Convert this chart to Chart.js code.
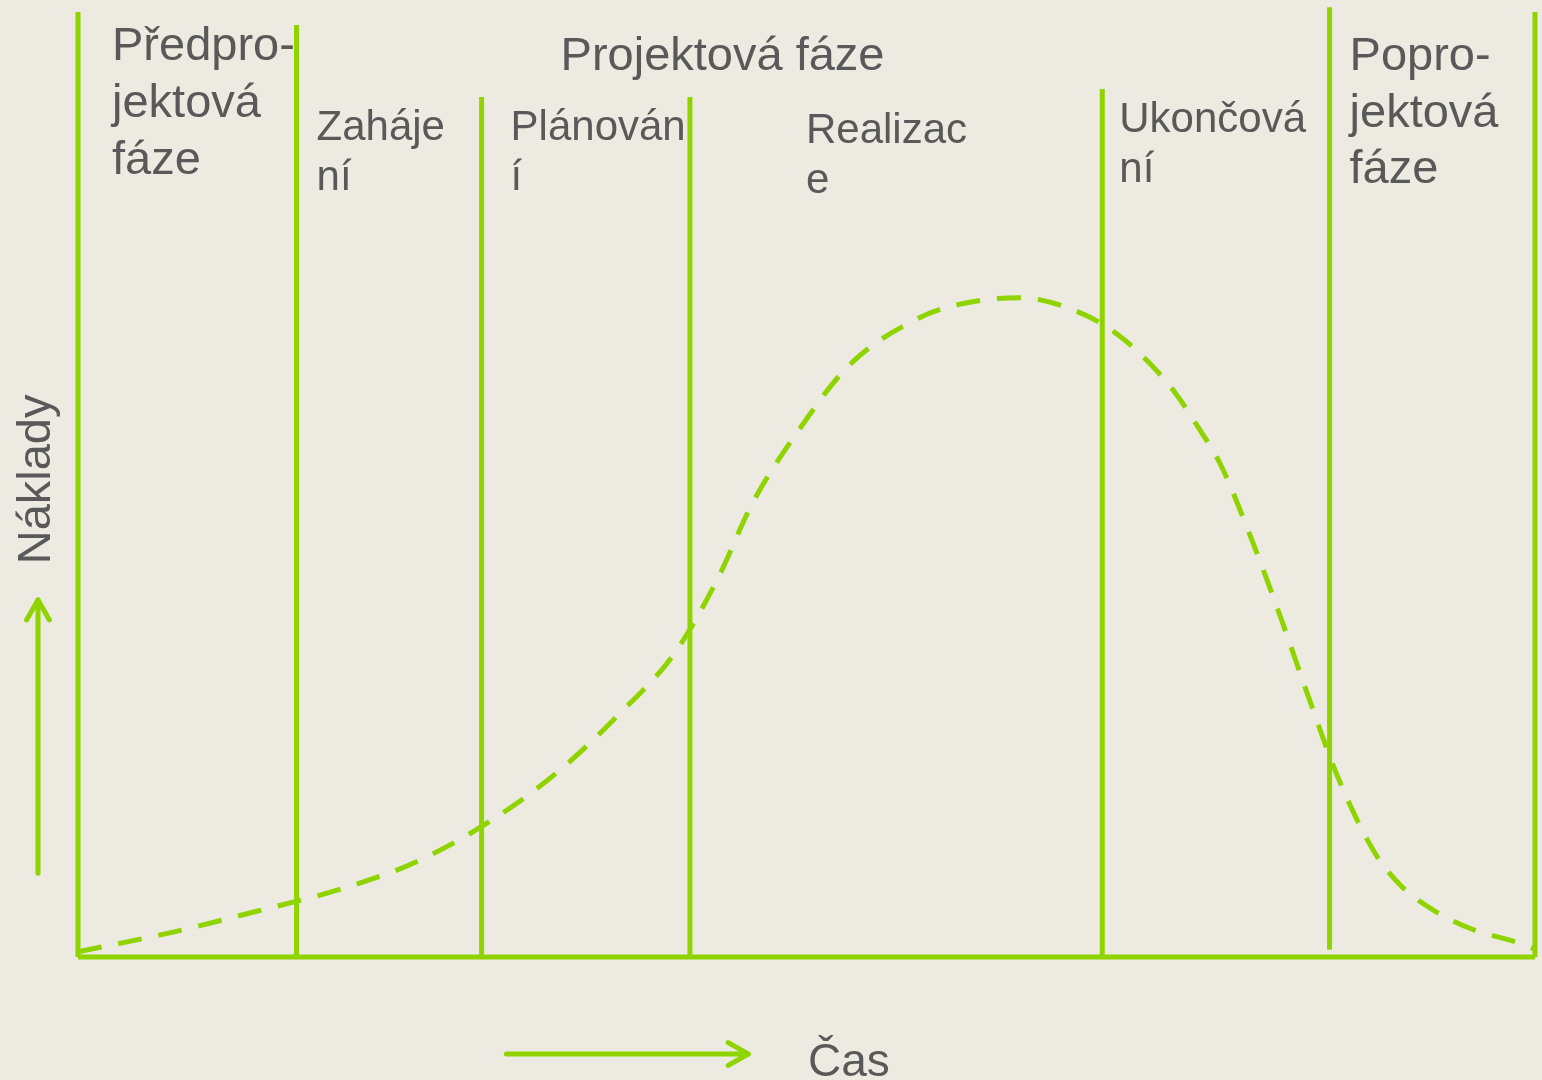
<!DOCTYPE html>
<html lang="cs">
<head>
<meta charset="utf-8">
<title>Náklady projektu v čase</title>
<script src="https://cdn.jsdelivr.net/npm/chart.js@4/dist/chart.umd.min.js"></script>
<style>
  html, body { margin: 0; padding: 0; background: #EDEBE1; }
  #wrap { width: 1542px; height: 1080px; }
</style>
</head>
<body>
<div id="wrap"><canvas id="chart" width="1542" height="1080"></canvas></div>
<script>
// Time axis (0–100 % of the project life) and cost (0–100 % of the peak)
const timePoints = [0, 6.6, 12.2, 17.9, 23.2, 28.3, 32.9, 37.1, 41.0, 43.9, 46.3, 49.4, 52.9, 57.6, 60.3, 64.6, 68.8, 71.3, 73.4, 75.3, 76.9, 78.4, 80.6, 82.6, 84.5, 86.5, 89.0, 90.8, 93.1, 95.7, 98.5, 100];
const costValues = [0.8, 3.8, 6.9, 10.2, 14.4, 20.6, 28.0, 36.7, 46.2, 57.3, 68.8, 79.6, 89.6, 96.7, 98.8, 99.9, 97.6, 94.4, 90.3, 85.5, 80.2, 74.7, 63.0, 51.1, 39.1, 27.1, 15.8, 10.8, 7.0, 4.2, 2.4, 1.2];

// Phase boundaries on the time axis, with the heights of the divider lines
const phaseBounds = [0, 15.0, 27.7, 42.0, 70.3, 85.9, 100];
const boundTops = [143.2, 141.2, 130.3, 130.3, 131.5, 143.9, 143.2];
const boundBottoms = [0, 0, 0, 0, 0, 1.1, 0];

// Phase names (line-broken as they are set)
const mainPhaseLabel = 'Projektová fáze';
const phaseLabels = [
  ['Předpro-', 'jektová', 'fáze'],
  ['Zaháje', 'ní'],
  ['Plánován', 'í'],
  ['Realizac', 'e'],
  ['Ukončová', 'ní'],
  ['Popro-', 'jektová', 'fáze']
];
const xAxisTitle = 'Čas';
const yAxisTitle = 'Náklady';

const GREEN = '#8FD400';
const TEXT = '#595959';
const BG = '#EDEBE1';
const FONT = '"Liberation Sans", Arial, sans-serif';

const datasets = [];

// Dashed cost curve
datasets.push({
  label: 'Náklady',
  data: timePoints.map((t, i) => ({ x: t, y: costValues[i] })),
  borderColor: GREEN,
  borderWidth: 5,
  borderDash: [24, 17],
  borderCapStyle: 'butt',
  pointRadius: 0,
  fill: false,
  cubicInterpolationMode: 'monotone',
  clip: false,
  order: 2
});

// Phase dividers
phaseBounds.forEach((b, i) => {
  datasets.push({
    label: 'hranice ' + i,
    data: [{ x: b, y: boundBottoms[i] }, { x: b, y: boundTops[i] }],
    borderColor: GREEN,
    borderWidth: 5,
    pointRadius: 0,
    fill: false,
    clip: false,
    order: 1
  });
});

// Time axis baseline
datasets.push({
  label: 'osa',
  data: [{ x: phaseBounds[0], y: 0 }, { x: phaseBounds[phaseBounds.length - 1], y: 0 }],
  borderColor: GREEN,
  borderWidth: 5,
  pointRadius: 0,
  fill: false,
  clip: false,
  order: 1
});

const backgroundPlugin = {
  id: 'bg',
  beforeDraw(chart) {
    const ctx = chart.ctx;
    ctx.save();
    ctx.fillStyle = BG;
    ctx.fillRect(0, 0, chart.width, chart.height);
    ctx.restore();
  }
};

function arrow(ctx, x1, y1, x2, y2, head) {
  const ang = Math.atan2(y2 - y1, x2 - x1);
  ctx.beginPath();
  ctx.moveTo(x1, y1);
  ctx.lineTo(x2, y2);
  ctx.stroke();
  ctx.beginPath();
  ctx.moveTo(x2 - head * Math.cos(ang - 0.52), y2 - head * Math.sin(ang - 0.52));
  ctx.lineTo(x2, y2);
  ctx.lineTo(x2 - head * Math.cos(ang + 0.52), y2 - head * Math.sin(ang + 0.52));
  ctx.stroke();
}

const annotationsPlugin = {
  id: 'annotations',
  afterDatasetsDraw(chart) {
    const ctx = chart.ctx;
    const xs = chart.scales.x;
    const ys = chart.scales.y;
    const px = v => xs.getPixelForValue(v);
    const area = chart.chartArea;
    ctx.save();
    ctx.fillStyle = TEXT;
    ctx.textAlign = 'left';
    ctx.textBaseline = 'alphabetic';

    // Main project phase heading
    ctx.font = '47px ' + FONT;
    ctx.fillText(mainPhaseLabel, px(phaseBounds[1]) + 264, 70);

    // Phase labels: [x offset from the left divider, first baseline, line step, font size]
    const layout = [
      [34, 60, 57, 47],
      [20, 140, 50, 42],
      [29, 140, 50, 42],
      [116, 143, 50, 42],
      [17, 132, 50, 42],
      [20, 70, 56.5, 47]
    ];
    phaseLabels.forEach((lines, i) => {
      const [dx, y0, step, size] = layout[i];
      ctx.font = size + 'px ' + FONT;
      lines.forEach((t, k) => ctx.fillText(t, px(phaseBounds[i]) + dx, y0 + k * step));
    });

    // Axis arrows
    ctx.strokeStyle = GREEN;
    ctx.lineWidth = 5;
    ctx.lineCap = 'round';
    ctx.lineJoin = 'round';
    const yArrow = area.bottom + 97;
    arrow(ctx, px(29.4), yArrow, px(46.0), yArrow, 23);
    const xArrow = area.left - 40;
    arrow(ctx, xArrow, ys.getPixelForValue(12.7), xArrow, ys.getPixelForValue(54.1), 23);

    // Axis titles
    ctx.font = '46px ' + FONT;
    ctx.fillText(xAxisTitle, px(50.1), area.bottom + 119);
    ctx.save();
    ctx.translate(area.left - 28, ys.getPixelForValue(59.5));
    ctx.rotate(-Math.PI / 2);
    ctx.font = '47px ' + FONT;
    ctx.fillText(yAxisTitle, 0, 0);
    ctx.restore();

    ctx.restore();
  }
};

new Chart(document.getElementById('chart'), {
  type: 'line',
  data: { datasets },
  options: {
    responsive: false,
    animation: false,
    events: [],
    layout: { padding: { left: 78, right: 7, top: 0, bottom: 123 } },
    scales: {
      x: { type: 'linear', min: 0, max: 100, display: false },
      y: { type: 'linear', min: 0, max: 145, display: false }
    },
    plugins: {
      legend: { display: false },
      tooltip: { enabled: false },
      title: { display: false }
    }
  },
  plugins: [backgroundPlugin, annotationsPlugin]
});
</script>
</body>
</html>
